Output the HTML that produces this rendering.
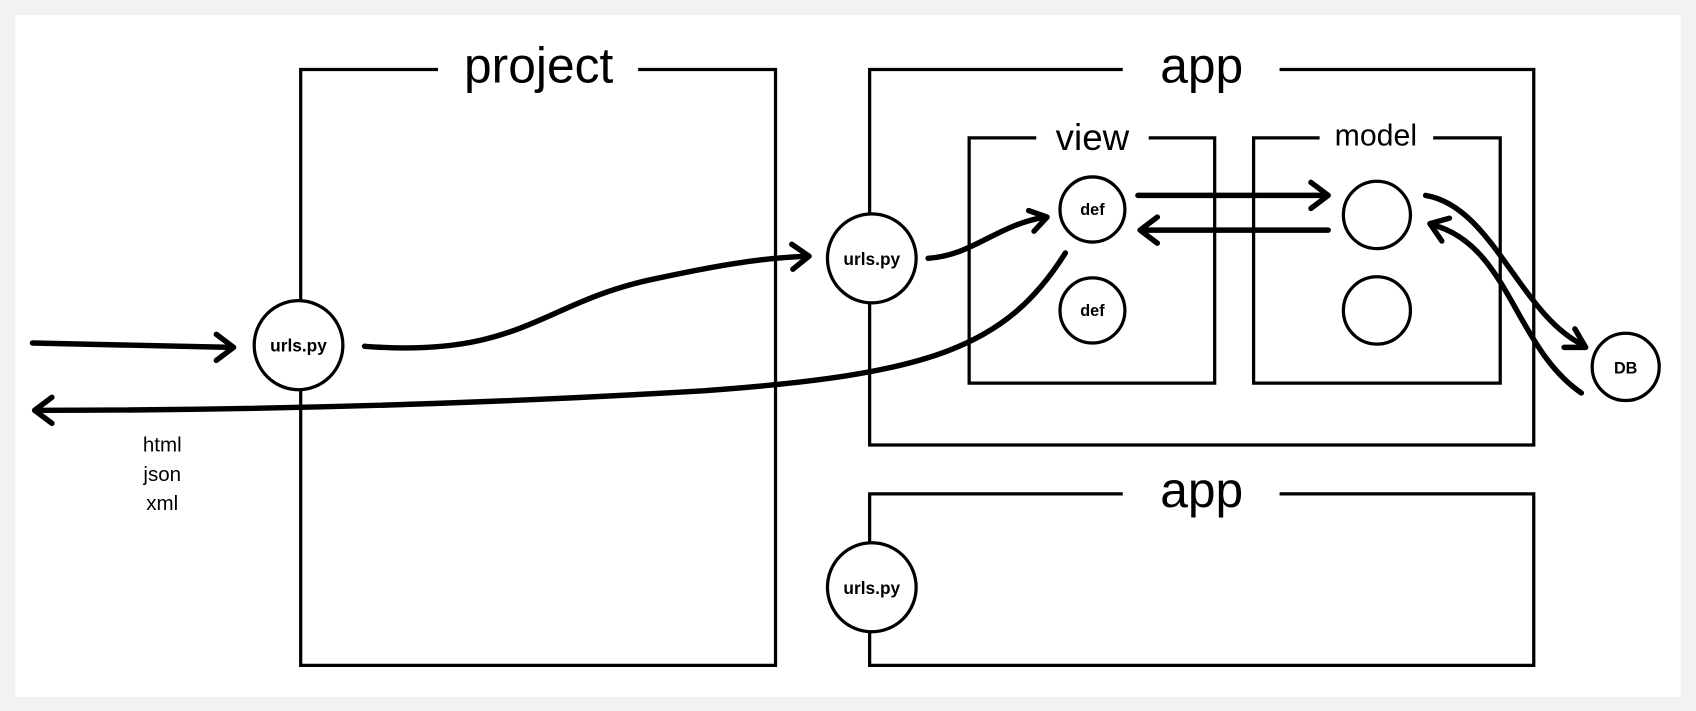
<!DOCTYPE html>
<html><head><style>
html,body{margin:0;padding:0;background:#f2f2f2;}
svg{display:block;}
text{font-family:"Liberation Sans","DejaVu Sans",sans-serif;fill:#000;}
</style></head><body>
<svg width="1696" height="711" viewBox="0 0 1568 655" preserveAspectRatio="none" xmlns="http://www.w3.org/2000/svg">
<defs>
<marker id="a" markerWidth="10" markerHeight="10" refX="7" refY="5" orient="auto" markerUnits="userSpaceOnUse" viewBox="0 0 10 10">
</marker>
</defs>
<rect x="14" y="14" width="1540" height="628" fill="#fff"/>
<g fill="none" stroke="#000" stroke-width="3">
<!-- project -->
<path d="M405 64 H278 V613 H717 V64 H590"/>
<!-- app -->
<path d="M1038 64 H804 V410 H1418 V64 H1183"/>
<path d="M958 127 H896 V353 H1123 V127 H1062"/>
<path d="M1220 127 H1159 V353 H1387 V127 H1325"/>
<path d="M1038 455 H804 V613 H1418 V455 H1183"/>
</g>
<g font-weight="300">
<text x="498" y="76" font-size="46" text-anchor="middle">project</text>
<text x="1111" y="76" font-size="46" text-anchor="middle">app</text>
<text x="1111" y="467" font-size="46" text-anchor="middle">app</text>
<text x="1010" y="138" font-size="34" text-anchor="middle">view</text>
<text x="1272" y="134" font-size="28" text-anchor="middle">model</text>
<text x="150" y="416" font-size="19" text-anchor="middle">html</text>
<text x="150" y="443" font-size="19" text-anchor="middle">json</text>
<text x="150" y="470" font-size="19" text-anchor="middle">xml</text>
</g>
<g fill="#fff" stroke="#000" stroke-width="3">
<circle cx="276" cy="318" r="41"/>
<circle cx="806" cy="238" r="41"/>
<circle cx="806" cy="541" r="41"/>
<circle cx="1010" cy="193" r="30"/>
<circle cx="1010" cy="286" r="30"/>
<circle cx="1273" cy="198" r="31"/>
<circle cx="1273" cy="286" r="31"/>
<circle cx="1503" cy="338" r="31"/>
</g>
<g font-weight="bold" text-anchor="middle">
<text x="276" y="324" font-size="16">urls.py</text>
<text x="806" y="244" font-size="16">urls.py</text>
<text x="806" y="547" font-size="16">urls.py</text>
<text x="1010" y="198" font-size="15">def</text>
<text x="1010" y="291" font-size="15">def</text>
<text x="1503" y="344" font-size="15">DB</text>
</g>
<g fill="none" stroke="#000" stroke-width="5" stroke-linecap="round" stroke-linejoin="round">
<path d="M30 316 L214 320"/><path d="M200 308 L216 320 L200 332"/>
<path d="M337 319 C480 330 500 280 600 258 C660 245 700 238 746 236"/><path d="M732 225 L748 236 L733 248"/>
<path d="M858 238 C900 235 920 208 966 200"/><path d="M951 194 L968 200 L956 213"/>
<path d="M1052 180 H1226"/><path d="M1212 168 L1228 180 L1212 192"/>
<path d="M1228 212 H1056"/><path d="M1070 200 L1054 212 L1070 224"/>
<path d="M985 233 C930 320 860 345 650 360 C450 372 250 378 34 378"/><path d="M48 366 L32 378 L48 390"/>
<path d="M1318 180 C1380 190 1405 290 1464 318"/><path d="M1446 320 L1466 320 L1456 303"/>
<path d="M1462 362 C1400 320 1395 225 1324 207"/><path d="M1340 201 L1322 206 L1333 222"/>
</g>
</svg>
</body></html>
